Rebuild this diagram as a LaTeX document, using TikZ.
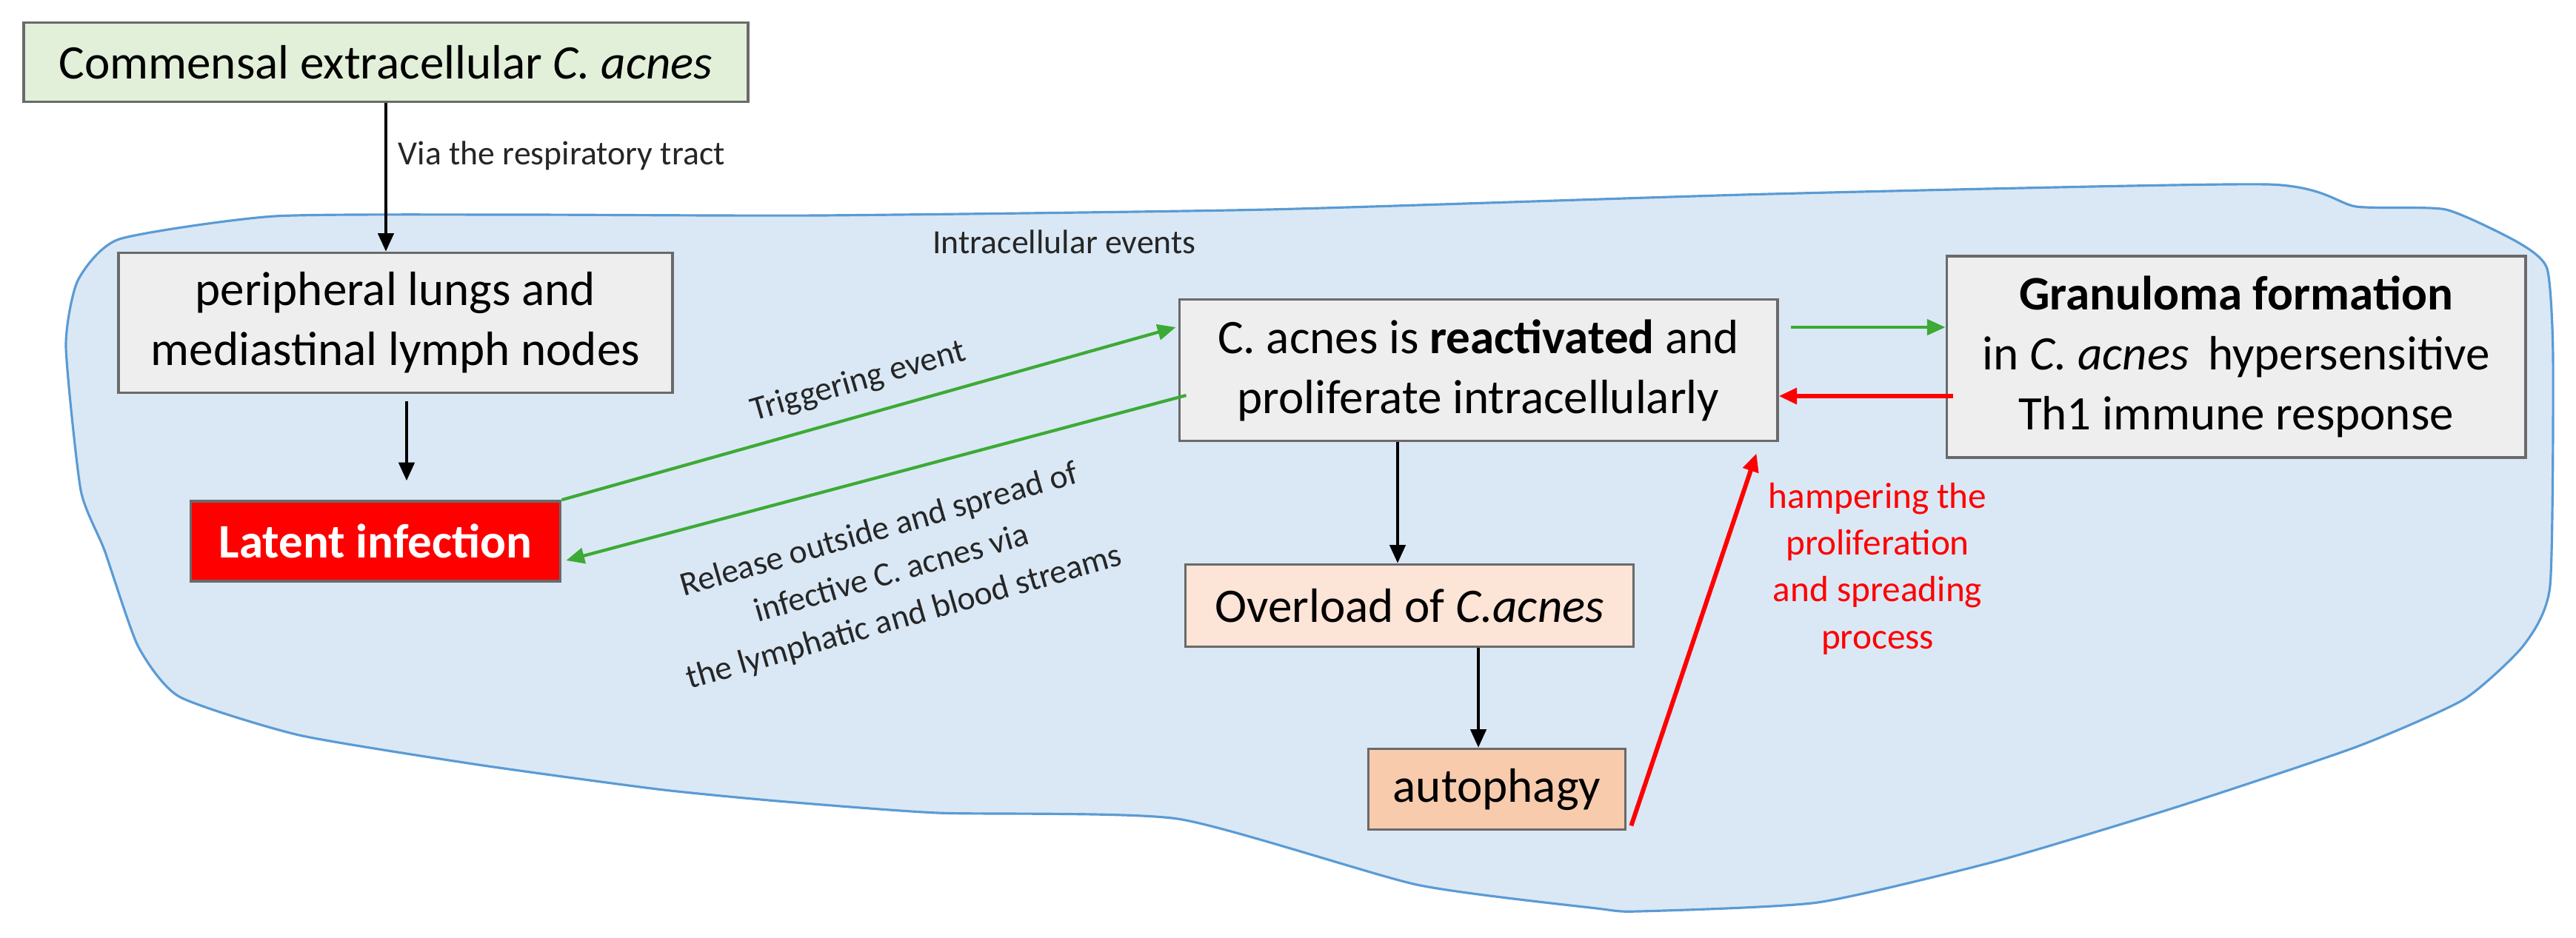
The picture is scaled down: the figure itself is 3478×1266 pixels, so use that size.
\documentclass[tikz,border=0pt]{standalone}
\usepackage{fontspec}
\setmainfont{Carlito}
\usetikzlibrary{arrows.meta,calc}
\definecolor{blobfill}{HTML}{DAE8F5}
\definecolor{blobline}{HTML}{5A9BD5}
\definecolor{boxgray}{HTML}{EEEEEE}
\definecolor{boxline}{HTML}{6A6A6A}
\definecolor{mygreen}{HTML}{E2F0D9}
\definecolor{peach}{HTML}{FCE4D6}
\definecolor{peach2}{HTML}{F8CBAD}
\definecolor{agreen}{HTML}{3DAA35}
\definecolor{ared}{HTML}{FF0000}
\begin{document}
\begin{tikzpicture}[x=0.01cm,y=-0.01cm,
  box/.style={draw=boxline,line width=1pt,fill=boxgray,align=center,inner sep=0pt,
     font=\fontsize{18.5}{23}\selectfont},
  lab/.style={font=\fontsize{13}{17}\selectfont,text=black!85,inner sep=0pt},
  blk/.style={line width=1.2pt,-{Triangle[length=7pt,width=6pt]}},
  grn/.style={agreen,line width=1.2pt,-{Triangle[length=7pt,width=6pt]}},
  rd/.style={ared,line width=1.7pt,-{Triangle[length=7pt,width=6pt]}}]
\useasboundingbox (0,0) rectangle (3478,1266);
\fill[white] (0,0) rectangle (3478,1266);
% blob
\draw[blobline,line width=0.9pt,fill=blobfill] plot[smooth cycle,tension=0.35] coordinates{
(371,292)(700,290)(1106,291)(1712,283)(2390,262)(3060,249)(3181,279)(3302,283)(3399,327)(3439,363)(3447,484)(3443,791)(3407,872)(3326,945)(3181,1009)(2939,1090)(2696,1163)(2454,1219)(2212,1231)(2156,1227)(1913,1195)(1590,1106)(1266,1098)(1050,1082)(888,1066)(646,1033)(404,993)(242,941)(186,872)(141,743)(109,662)(89,468)(105,379)(161,323)};
% boxes
\node[box,fill=mygreen,minimum width=9.77cm,minimum height=1.07cm] (comm) at (521,84) {Commensal extracellular \textit{C. acnes}};
\node[box,minimum width=7.48cm,minimum height=1.89cm] (peri) at (534,436) {peripheral lungs and\\mediastinal lymph nodes};
\node[box,draw=boxline,fill=ared,text=white,minimum width=4.99cm,minimum height=1.08cm,font=\fontsize{18.5}{23}\selectfont\bfseries] (lat) at (507,731) {Latent infection};
\node[box,minimum width=8.07cm,minimum height=1.91cm] (react) at (1996,500) {C. acnes is \textbf{reactivated} and\\proliferate intracellularly};
\node[box,minimum width=7.81cm,minimum height=2.72cm] (gran) at (3019,482) {\textbf{Granuloma formation}\\in \textit{C. acnes}\, hypersensitive\\Th1 immune response};
\node[box,fill=peach,minimum width=6.05cm,minimum height=1.11cm] (over) at (1903,818) {Overload of \textit{C.acnes}};
\node[box,fill=peach2,minimum width=3.47cm,minimum height=1.09cm] (auto) at (2021,1066) {autophagy};
% labels
\node[lab,anchor=west] (via) at (537,210) {Via the respiratory tract};
\node[lab] (intra) at (1437,327) {Intracellular events};
\node[lab,rotate=16] (trig) at (1159,516) {Triggering event};
\node[lab,rotate=16,align=center,font=\fontsize{13}{17.5}\selectfont] (rel) at (1204,776) {Release outside and spread of\\infective C. acnes via\\the lymphatic and blood streams};
\node[lab,text=ared,align=center,font=\fontsize{14}{18}\selectfont] (hamp) at (2535,768) {hampering the\\proliferation\\and spreading\\process};
% connectors
\draw[blk] (comm.south) -- (comm.south |- peri.north);
\draw[blk] ($(peri.south)+(15,10)$) -- ($(peri.south)+(15,117)$);
\draw[grn] (lat.north east) -- ($(react.west)+(-3,-58)$);
\draw[grn] ($(react.west)+(11,34)$) -- ($(lat.east)+(6,26)$);
\draw[grn] ($(react.east)+(16,-58)$) -- ($(gran.west)+(0,-40)$);
\draw[rd] ($(gran.west)+(10,53)$) -- ($(react.east)+(0,35)$);
\draw[blk] ($(react.south)+(-109,0)$) -- ($(over.north)+(-16,0)$);
\draw[blk] ($(over.south)+(93,0)$) -- ($(auto.north)+(-25,0)$);
\draw[rd] ($(auto.south east)+(6,-7)$) -- ($(react.south east)+(-30,15)$);
\end{tikzpicture}
\end{document}
